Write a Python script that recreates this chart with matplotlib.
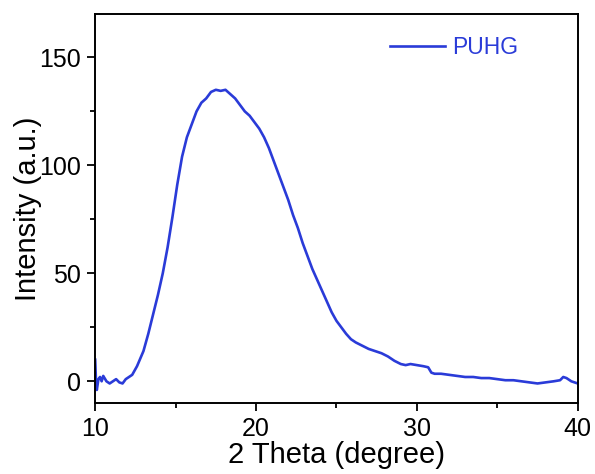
import matplotlib
matplotlib.use('Agg')
import matplotlib.pyplot as plt
from matplotlib.ticker import MultipleLocator

plt.rcParams['font.family'] = ['Liberation Sans', 'DejaVu Sans']

# XRD pattern
two_theta = [10.0, 10.05, 10.1, 10.2, 10.3, 10.4, 10.5, 10.7, 10.9, 11.1, 11.3, 11.5, 11.7, 11.9,
             12.1, 12.3, 12.6, 13.0, 13.3, 13.6, 13.9, 14.2, 14.5, 14.8, 15.1, 15.4, 15.7, 16.0,
             16.3, 16.6, 16.9, 17.2, 17.5, 17.8, 18.1, 18.4, 18.7, 19.0, 19.3, 19.6, 19.9, 20.2,
             20.5, 20.8, 21.1, 21.4, 21.7, 22.0, 22.3, 22.6, 22.9, 23.2, 23.5, 23.8, 24.1, 24.4,
             24.7, 25.0, 25.3, 25.6, 25.9, 26.2, 26.6, 27.0, 27.4, 27.8, 28.2, 28.6, 29.0, 29.3,
             29.6, 30.0, 30.4, 30.7, 30.9, 31.1, 31.5, 32.0, 32.5, 33.0, 33.5, 34.0, 34.5, 35.0,
             35.5, 36.0, 36.5, 37.0, 37.5, 38.0, 38.5, 38.9, 39.1, 39.3, 39.6, 40.0]
intensity = [10, 0, -4, 1, 2, 0, 2.5, 0, -1, 0, 1, -0.5, -1, 1,
             2, 3, 7, 14, 22, 31, 40, 50, 62, 76, 91, 104, 113, 119,
             125, 129, 131, 134, 135, 134.5, 135, 133, 131, 128, 125, 123, 120, 117,
             113, 108, 102, 96, 90, 84, 77, 71, 64, 58, 52, 47, 42, 37,
             32, 28, 25, 22, 19.5, 18, 16.5, 15, 14, 13, 11.5, 9.5, 8, 7.5,
             8, 7.5, 7, 6.5, 4, 3.5, 3.5, 3, 2.5, 2, 2, 1.5, 1.5, 1,
             0.5, 0.5, 0, -0.5, -1, -0.5, 0, 0.5, 2, 1.5, 0, -1]
series_label = 'PUHG'
line_color = '#2a3bd8'

fig = plt.figure(figsize=(5.95, 4.74), dpi=100)
ax = fig.add_axes([0.16, 0.15, 0.811, 0.82])
ax.plot(two_theta, intensity, color=line_color, lw=1.9, label=series_label)

ax.set_xlim(10, 40)
ax.set_ylim(-10, 170)
ax.xaxis.set_major_locator(MultipleLocator(10))
ax.xaxis.set_minor_locator(MultipleLocator(5))
ax.yaxis.set_major_locator(MultipleLocator(50))
ax.yaxis.set_minor_locator(MultipleLocator(25))
ax.tick_params(which='both', direction='out', width=1.3, labelsize=18, pad=4)
ax.tick_params(which='major', length=6)
ax.tick_params(which='minor', length=3.5)
for s in ax.spines.values():
    s.set_linewidth(1.4)

ax.set_xlabel('2 Theta (degree)', fontsize=21, labelpad=0)
ax.set_ylabel('Intensity (a.u.)', fontsize=21, labelpad=-2)

ax.legend(loc='center left', bbox_to_anchor=(0.611, 0.915), frameon=False,
          fontsize=16.5, handlelength=2.4, handletextpad=0.3,
          borderpad=0, borderaxespad=0, labelcolor='linecolor')

fig.savefig('out.png', dpi=100)
